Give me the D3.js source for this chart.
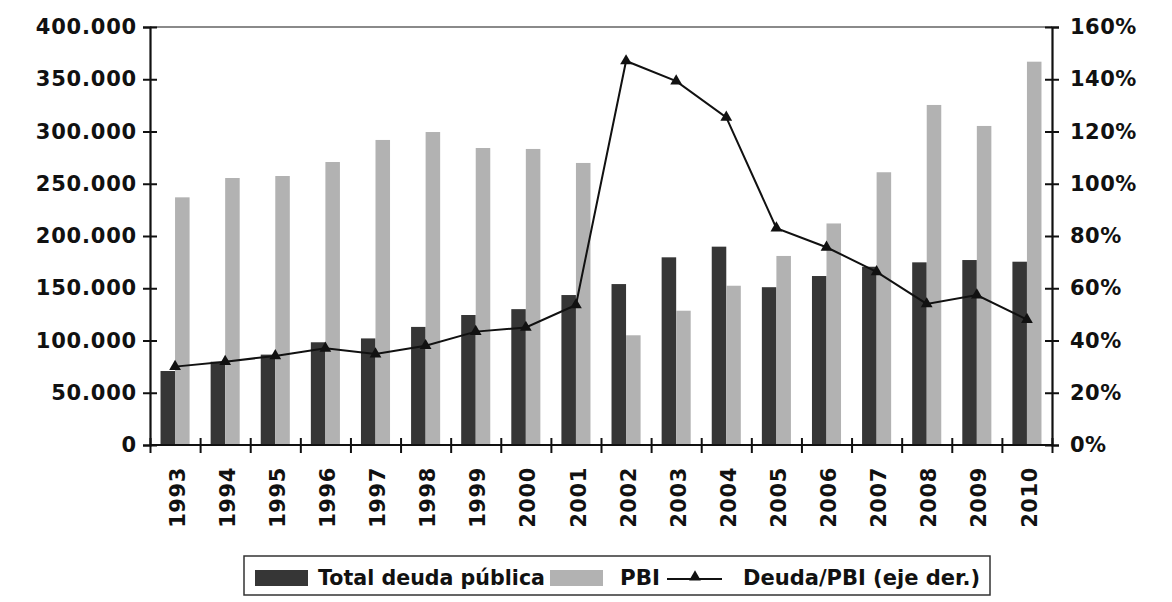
<!DOCTYPE html>
<html><head><meta charset="utf-8">
<script src="https://cdn.jsdelivr.net/npm/d3@7"></script>
<style>body{margin:0;background:#fff}svg{display:block}</style>
</head><body>
<svg id="c" width="1172" height="602"></svg>
<script>
const years = ["1993","1994","1995","1996","1997","1998","1999","2000","2001","2002","2003","2004","2005","2006","2007","2008","2009","2010"];
const deuda = [70800,79700,86500,98300,102000,113000,124400,130000,143500,154000,179600,189800,151000,161700,170600,174800,177000,175400];
const pbi = [237000,255500,257400,270800,291900,299500,284200,283300,269900,105000,128500,152400,180900,212000,261000,325400,305300,366800];
const ratio = [30.0,31.9,34.1,37.0,34.8,38.0,43.4,45.0,53.6,147.0,139.3,125.4,83.0,75.7,66.3,54.0,57.4,48.0];
const leftTicks = [0,50000,100000,150000,200000,250000,300000,350000,400000];
const rightTicks = [0,20,40,60,80,100,120,140,160];

const L=150,R=1052,T=27,B=445;
const svg=d3.select("#c");
const locale=d3.formatLocale({decimal:",",thousands:".",grouping:[3],currency:["$",""]});
const fmt=locale.format(",.0f");
const axisFont='"DejaVu Sans", sans-serif';

const x=d3.scaleBand().domain(years).range([L,R]).paddingInner(0.42).paddingOuter(0.21);
const xb=d3.scaleLinear().domain([0,years.length]).range([L,R]);
const y=d3.scaleLinear().domain([0,400000]).range([B,T]);
const y2=d3.scaleLinear().domain([0,160]).range([B,T]);
const bw=x.bandwidth()/2;

// top border
svg.append("line").attr("x1",L).attr("x2",R).attr("y1",T).attr("y2",T).attr("stroke","#8a8a8a").attr("stroke-width",2);

// bars
svg.append("g").selectAll("rect").data(years).join("rect")
 .attr("x",d=>x(d)).attr("width",bw).attr("y",(d,i)=>y(deuda[i])).attr("height",(d,i)=>B-y(deuda[i])).attr("fill","#363636");
svg.append("g").selectAll("rect").data(years).join("rect")
 .attr("x",d=>x(d)+bw).attr("width",bw).attr("y",(d,i)=>y(pbi[i])).attr("height",(d,i)=>B-y(pbi[i])).attr("fill","#b2b2b2");

// line
const cx=d=>x(d)+x.bandwidth()/2;
svg.append("path").datum(years).attr("fill","none").attr("stroke","#111").attr("stroke-width",2)
 .attr("d",d3.line().x(d=>cx(d)).y((d,i)=>y2(ratio[i])));
const tri=d3.symbol().type(d3.symbolTriangle).size(60);
svg.append("g").selectAll("path").data(years).join("path").attr("d",tri)
 .attr("transform",(d,i)=>`translate(${cx(d)},${y2(ratio[i])})`).attr("fill","#111");

// left axis
const gl=svg.append("g").attr("transform",`translate(${L},0)`)
 .call(d3.axisLeft(y).tickValues(leftTicks).tickFormat(fmt).tickSize(7).tickPadding(6));
gl.selectAll(".tick line").attr("x2",-7).attr("x1",7);
// right axis
const gr=svg.append("g").attr("transform",`translate(${R},0)`)
 .call(d3.axisRight(y2).tickValues(rightTicks).tickFormat(d=>d+"%").tickSize(7).tickPadding(11));
gr.selectAll(".tick line").attr("x1",-7).attr("x2",7);
// bottom axis with boundary ticks
const gb=svg.append("g").attr("transform",`translate(0,${B})`)
 .call(d3.axisBottom(xb).tickValues(d3.range(0,years.length+1)).tickFormat("").tickSize(7));
gb.selectAll(".tick line").attr("y1",-7).attr("y2",8);
[gl,gr,gb].forEach(g=>{g.select(".domain").attr("stroke","#111").attr("stroke-width",2.2);
 g.selectAll(".tick line").attr("stroke","#111").attr("stroke-width",2);
 g.selectAll("text").attr("font-family",axisFont).attr("font-weight","bold").attr("font-size",21).attr("fill","#111");});
gl.selectAll("text").attr("letter-spacing",0.8);
gr.selectAll("text").attr("letter-spacing",0.5);
gb.select(".domain").attr("d",`M${L},0H${R}`);

// year labels
svg.append("g").selectAll("text").data(years).join("text")
 .attr("transform",d=>`translate(${cx(d)+2},${B+22}) rotate(-90)`)
 .attr("text-anchor","end").attr("dy","0.36em")
 .attr("font-family",axisFont).attr("font-weight","bold").attr("font-size",21).attr("letter-spacing",0.6).attr("fill","#111")
 .text(d=>d);

// legend
const lg=svg.append("g");
lg.append("rect").attr("x",244).attr("y",556).attr("width",746).attr("height",39).attr("fill","#fff").attr("stroke","#333").attr("stroke-width",1.5);
const lf='"DejaVu Sans",sans-serif';
lg.append("rect").attr("x",255).attr("y",570).attr("width",53).attr("height",16).attr("fill","#363636");
lg.append("text").attr("x",318).attr("y",585).attr("textLength",227).text("Total deuda pública");
lg.append("rect").attr("x",550).attr("y",570).attr("width",53).attr("height",16).attr("fill","#b2b2b2");
lg.append("text").attr("x",620).attr("y",585).attr("textLength",40).text("PBI");
lg.append("line").attr("x1",667).attr("x2",722).attr("y1",579).attr("y2",579).attr("stroke","#111").attr("stroke-width",2);
lg.append("path").attr("d",tri).attr("transform","translate(695,577)").attr("fill","#111");
lg.append("text").attr("x",743).attr("y",585).attr("textLength",237).text("Deuda/PBI (eje der.)");
lg.selectAll("text").attr("font-family",lf).attr("font-weight","bold").attr("font-size",21).attr("lengthAdjust","spacingAndGlyphs").attr("fill","#111");
</script>
</body></html>
